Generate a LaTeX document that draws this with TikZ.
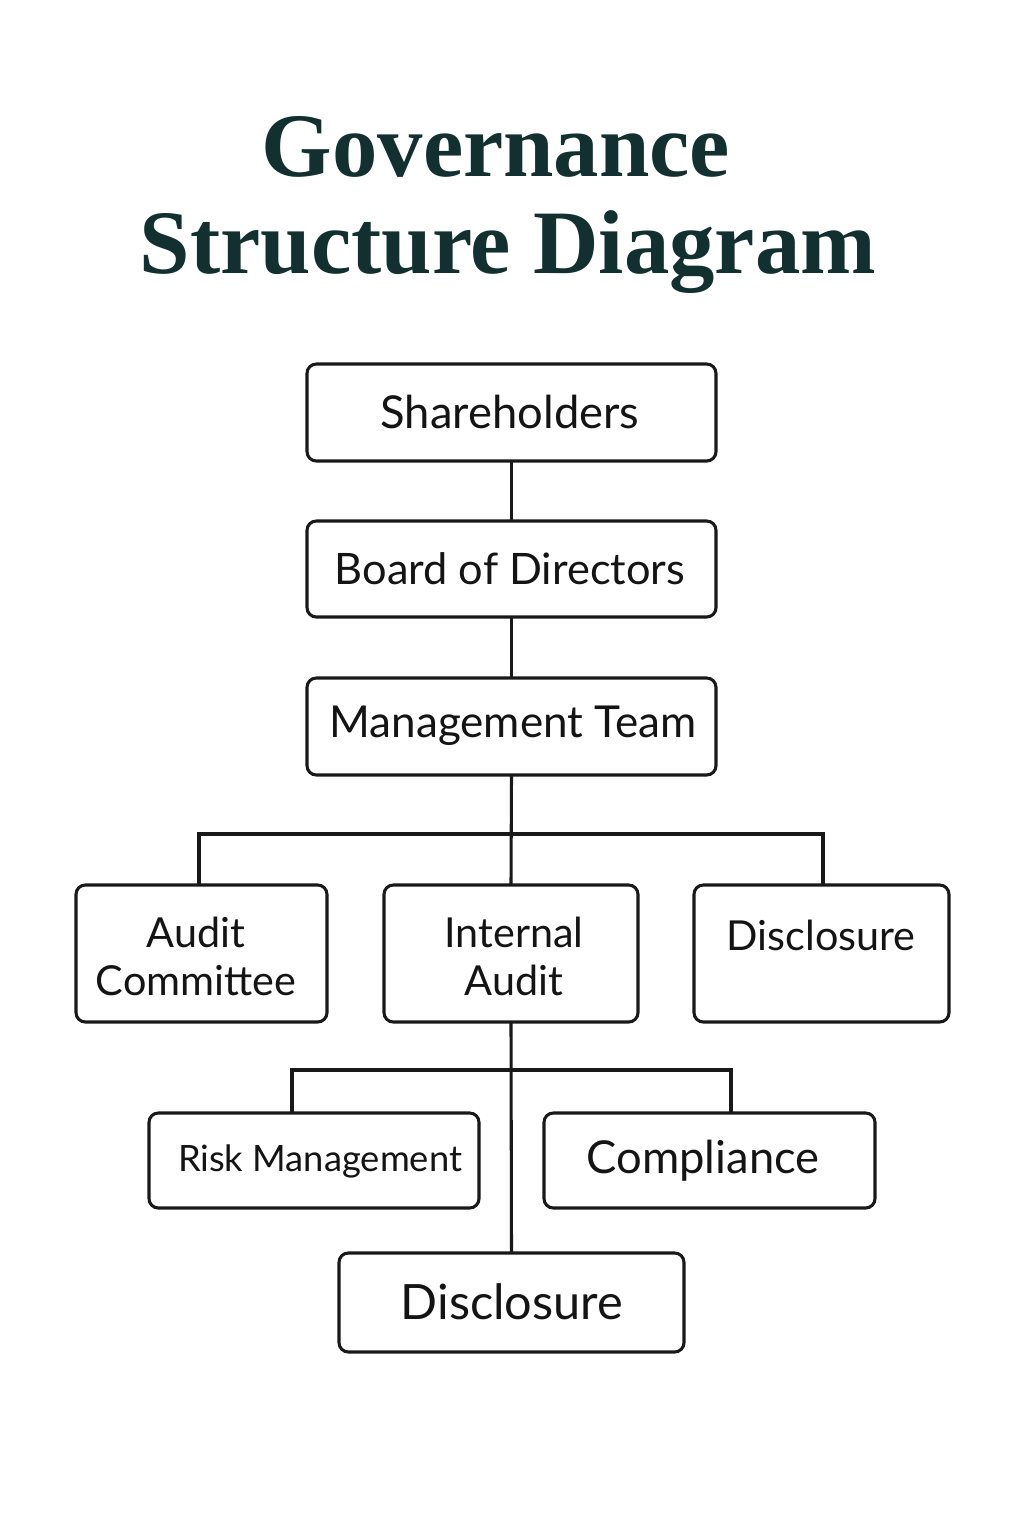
\documentclass[tikz,border=0pt]{standalone}
\usepackage{fontspec}
\setmainfont{Lato}
\newfontfamily\titlefont{Liberation Serif}
\definecolor{titleteal}{HTML}{12302F}
\begin{document}
\begin{tikzpicture}[x=0.75pt,y=-0.75pt,
  box/.style={draw=black!90,line width=2.3pt,rounded corners=7pt,fill=white,inner sep=0pt},
  lbl/.style={inner sep=0pt,align=center,text=black!92},
  conn/.style={draw=black!90,line width=2.3pt,line cap=rect}]
\useasboundingbox[fill=white] (0,0) rectangle (1024,1536);
% title
\node[lbl,anchor=base,text=titleteal,font=\titlefont\bfseries\fontsize{68}{72}\selectfont] (t1) at (496,176) {Governance};
\node[lbl,anchor=base,text=titleteal,font=\titlefont\bfseries\fontsize{68}{72}\selectfont] (t2) at (508,273) {Structure Diagram};
% boxes
\node[box,minimum width=306.75pt,minimum height=72.75pt] (sh) at (511.5,412.5) {};
\node[box,minimum width=306.75pt,minimum height=72pt] (bd) at (511.5,569) {};
\node[box,minimum width=306.75pt,minimum height=72.75pt] (mt) at (511.5,726.5) {};
\node[box,minimum width=188.25pt,minimum height=102.75pt] (ac) at (201.5,953.5) {};
\node[box,minimum width=190.5pt,minimum height=102.75pt] (ia) at (511,953.5) {};
\node[box,minimum width=191.25pt,minimum height=102.75pt] (dr) at (821.5,953.5) {};
\node[box,minimum width=247.5pt,minimum height=71.25pt] (rm) at (314,1160.5) {};
\node[box,minimum width=248.25pt,minimum height=71.25pt] (cp) at (709.5,1160.5) {};
\node[box,minimum width=258.75pt,minimum height=74.25pt] (db) at (511.5,1302.5) {};
% labels
\node[lbl,font=\fontsize{34}{38}\selectfont] (shl) at (510,412) {Shareholders};
\node[lbl,font=\fontsize{32.5}{38}\selectfont] (bdl) at (510,569) {Board of Directors};
\node[lbl,font=\fontsize{33}{38}\selectfont] (mtl) at (513,726) {Management Team};
\node[lbl,font=\fontsize{31}{36}\selectfont] (acl) at (196,956) {Audit\\Committee};
\node[lbl,font=\fontsize{31}{36}\selectfont] (ial) at (514,956) {Internal\\Audit};
\node[lbl,font=\fontsize{31}{36}\selectfont] (drl) at (821,935) {Disclosure};
\node[lbl,font=\fontsize{28}{36}\selectfont] (rml) at (320,1161) {\resizebox{213pt}{!}{Risk Management}};
\node[lbl,font=\fontsize{34}{38}\selectfont] (cpl) at (703,1161) {Compliance};
\node[lbl,font=\fontsize{36.5}{40}\selectfont] (dbl) at (512,1302) {Disclosure};
% connectors
\coordinate (j1) at (512,834);
\coordinate (j2) at (512,1070);
\coordinate (a1) at (199,834);
\coordinate (d1) at (823,834);
\coordinate (r1) at (292,1070);
\coordinate (c1) at (731,1070);
\draw[conn] (sh.south) -- (bd.north);
\draw[conn] (bd.south) -- (mt.north);
\draw[conn] (mt.south) -- (ia.north);
\draw[conn] (a1) -- (d1);
\draw[conn] (a1) -- (a1 |- ac.north);
\draw[conn] (d1) -- (d1 |- dr.north);
\draw[conn] (ia.south) -- (db.north);
\draw[conn] (r1) -- (c1);
\draw[conn] (r1) -- (r1 |- rm.north);
\draw[conn] (c1) -- (c1 |- cp.north);
\end{tikzpicture}
\end{document}
